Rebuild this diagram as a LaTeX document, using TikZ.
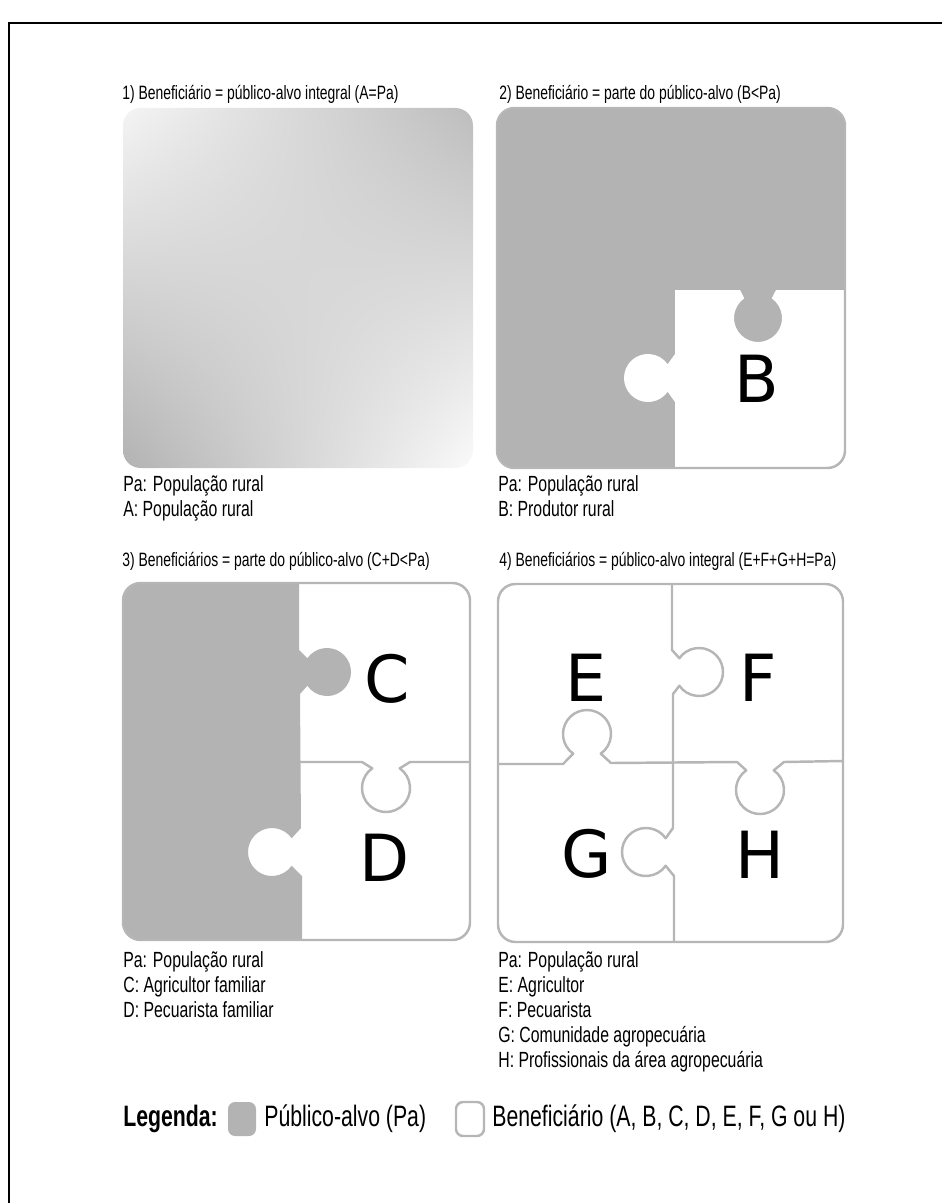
\documentclass[tikz,border=0pt]{standalone}
\usepackage{fontspec}
\setmainfont{Liberation Sans}[FakeStretch=0.72]
\newfontfamily\letterfont{DejaVu Sans}
\usetikzlibrary{calc, shadings}
\definecolor{pagray}{HTML}{B3B3B3}
\definecolor{edgegray}{HTML}{B6B6B6}
\definecolor{shadeTL}{HTML}{F4F4F4}
\definecolor{shadeTR}{HTML}{BDBDBD}
\definecolor{shadeBL}{HTML}{B2B2B2}
\definecolor{shadeBR}{HTML}{FAFAFA}

% puzzle knob: centre x, centre y, start angle, end angle
\newcommand{\knob}[4]{-- ($(#1,#2)+(#3:24)$) arc[start angle=#3, end angle=#4, radius=24]}

\begin{document}
\begin{tikzpicture}[
    x=0.02cm, y=-0.02cm,
    paneltitle/.style={anchor=base west, inner sep=0pt, font=\fontsize{11}{13}\selectfont},
    caption/.style={anchor=base west, inner sep=0pt, font=\fontsize{12.5}{14}\selectfont},
    legtext/.style={anchor=base west, inner sep=0pt, font=\fontsize{16.8}{19}\selectfont},
    legkey/.style={minimum width=0.56cm, minimum height=0.68cm, inner sep=0pt, rounded corners=4pt},
    pieceletter/.style={inner sep=0pt, font=\letterfont\fontsize{37}{40}\selectfont},
    cut/.style={edgegray, line width=1.4pt, line join=round},
    box/.style={rounded corners=10pt}
]
\useasboundingbox (0,0) rectangle (942,1203);

% Frame
\draw[line width=1.7pt] (9,1203) -- (9,23) -- (942,23);

% Panel 1
\node[paneltitle] (t1) at (122,100) {1) Beneficiário = público-alvo integral (A=Pa)};
\shade[box, upper left=shadeTL, upper right=shadeTR, lower left=shadeBL, lower right=shadeBR]
    (123,108) rectangle (473,468);
\foreach \txt [count=\i] in {Pa: População rural, A: População rural}
    \node[caption] (capA\i) at (123,466+25*\i) {\txt};

% Panel 2
\node[paneltitle] (t2) at (499,100) {2) Beneficiário = parte do público-alvo (B<Pa)};
\begin{scope}
    \clip[box] (497,108) rectangle (845,468);
    \fill[pagray] (497,108) rectangle (845,468);
    \fill[white] (675,290) -- (740,290) \knob{758}{318}{235}{-55} -- (776,290) -- (850,290)
        -- (850,475) -- (675,475) -- (675,402) \knob{648}{378}{35}{325} -- (675,354) -- cycle;
\end{scope}
\draw[cut, box] (497,108) rectangle (845,468);
\node[pieceletter] (B) at (757,379) {B};
\foreach \txt [count=\i] in {Pa: População rural, B: Produtor rural}
    \node[caption] (capB\i) at (498,466+25*\i) {\txt};

% Panel 3
\node[paneltitle] (t3) at (122,566) {3) Beneficiários = parte do público-alvo (C+D<Pa)};
\begin{scope}
    \clip[box] (123,583) rectangle (470,940);
    \fill[white] (123,583) rectangle (470,940);
    \fill[pagray] (110,570) -- (299,570) -- (299,650) \knob{327}{672}{-145}{145} -- (300,694)
        -- (301,828) \knob{272}{852}{-35}{-325} -- (302,876) -- (302,950) -- (110,950) -- cycle;
\end{scope}
\draw[cut] (300,762) -- (362,762) \knob{386}{788}{235}{-55} -- (410,762) -- (470,762);
\draw[cut, box] (123,583) rectangle (470,940);
\node[pieceletter] (C) at (387,679) {C};
\node[pieceletter] (D) at (385,858) {D};
\foreach \txt [count=\i] in {Pa: População rural, C: Agricultor familiar, D: Pecuarista familiar}
    \node[caption] (capC\i) at (123,942+25*\i) {\txt};

% Panel 4
\node[paneltitle] (t4) at (499,566) {4) Beneficiários = público-alvo integral (E+F+G+H=Pa)};
\draw[cut] (672,584) -- (672,650) \knob{699}{672}{-145}{145} -- (673,694)
    -- (673,828) \knob{646}{852}{-35}{-325} -- (674,876) -- (674,942);
\draw[cut] (498,764) -- (563,764) \knob{587}{734}{125}{415} -- (611,763)
    -- (737,762) \knob{760}{790}{235}{-55} -- (784,762) -- (843,761);
\draw[cut, box] (498,584) rectangle (843,942);
\node[pieceletter] (E) at (586,678) {E};
\node[pieceletter] (F) at (758,678) {F};
\node[pieceletter] (G) at (587,854) {G};
\node[pieceletter] (H) at (760,855) {H};
\foreach \txt [count=\i] in {Pa: População rural, E: Agricultor, F: Pecuarista,
        G: Comunidade agropecuária, H: Profissionais da área agropecuária}
    \node[caption] (capD\i) at (498,942+25*\i) {\txt};

% Legend
\node[legtext, font=\fontsize{16.8}{19}\selectfont\bfseries] (leg) at (123,1126) {Legenda:};
\node[legkey, fill=pagray] (keypa) at (242,1119) {};
\node[legtext] (legpa) at (264,1126) {Público-alvo (Pa)};
\node[legkey, draw=edgegray, line width=1.4pt, fill=white] (keyben) at (470,1119) {};
\node[legtext] (legben) at (492,1126) {Beneficiário (A, B, C, D, E, F, G ou H)};

\end{tikzpicture}
\end{document}
